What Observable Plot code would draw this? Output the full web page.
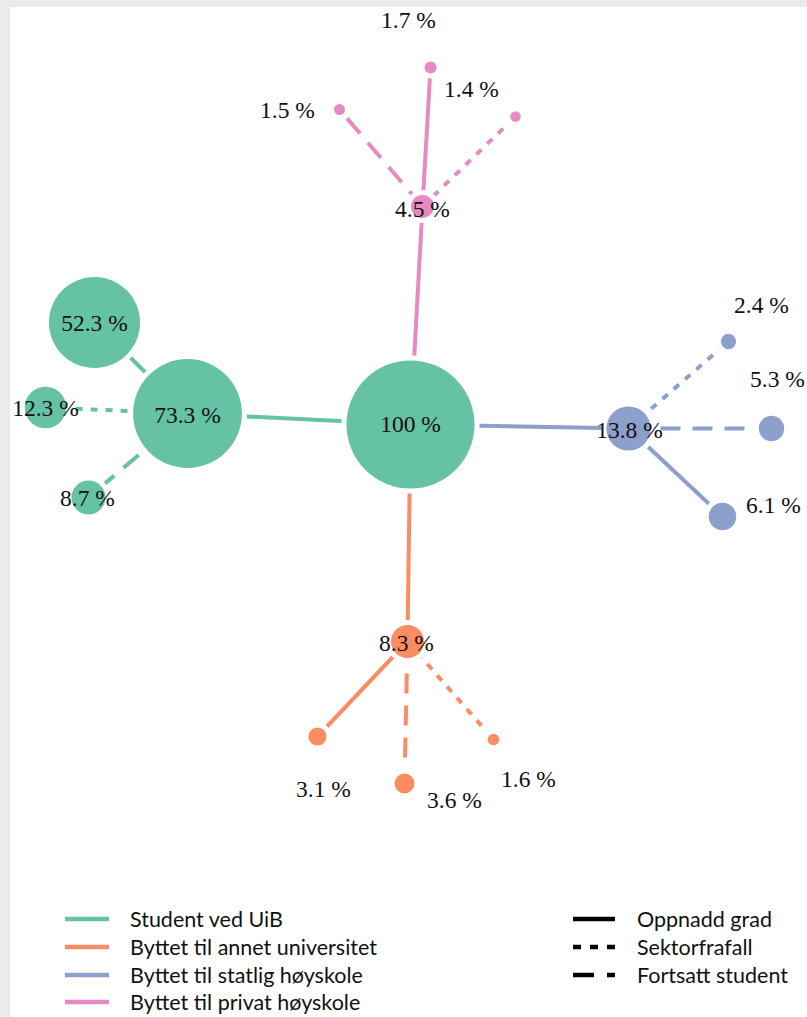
<!DOCTYPE html>
<html>
<head>
<meta charset="utf-8">
<script src="https://cdn.jsdelivr.net/npm/d3@7"></script>
<script src="https://cdn.jsdelivr.net/npm/@observablehq/plot@0.6"></script>
<style>
  html, body { margin: 0; padding: 0; }
  body { width: 807px; height: 1017px; background: #ebebeb; position: relative; overflow: hidden; }
  #panel { position: absolute; left: 10px; top: 7px; right: 0; bottom: 0; background: #ffffff; }
  #chart { position: absolute; left: 0; top: 0; }
  #legend { position: absolute; left: 0; top: 0; width: 807px; height: 1017px; pointer-events: none;
            font-family: Lato, "Open Sans", sans-serif; font-size: 21.5px; color: #111; }
  .item { position: absolute; display: flex; align-items: center; height: 28px; white-space: nowrap; }
  .item svg { margin-right: 19px; }
</style>
</head>
<body>
<div id="panel"></div>
<div id="chart"></div>
<div id="legend"></div>
<script>
// ---- data ----
const groups = ["Student ved UiB", "Byttet til annet universitet", "Byttet til statlig høyskole", "Byttet til privat høyskole"];
const outcomes = ["Oppnadd grad", "Sektorfrafall", "Fortsatt student"];

const nodeIds   = ["root", "uib", "uib_grad", "uib_frafall", "uib_student",
                   "univ", "univ_grad", "univ_student", "univ_frafall",
                   "stat", "stat_frafall", "stat_student", "stat_grad",
                   "priv", "priv_grad", "priv_student", "priv_frafall"];
const nodeShare = [100, 73.3, 52.3, 12.3, 8.7,
                   8.3, 3.1, 3.6, 1.6,
                   13.8, 2.4, 5.3, 6.1,
                   4.5, 1.7, 1.5, 1.4];
const nodeGroup = [0, 0, 0, 0, 0,
                   1, 1, 1, 1,
                   2, 2, 2, 2,
                   3, 3, 3, 3];
const nodeParent = [null, "root", "uib", "uib", "uib",
                    "root", "univ", "univ", "univ",
                    "root", "stat", "stat", "stat",
                    "root", "priv", "priv", "priv"];
// outcome index of the edge leading into each node (-1: transfer edge from root, drawn solid)
const nodeOutcome = [-1, -1, 0, 1, 2,
                     -1, 0, 2, 1,
                     -1, 1, 2, 0,
                     -1, 0, 2, 1];

// ---- network layout (node positions, label offsets; layout units, y up) ----
const layoutXY = {
  root: [0, 0], uib: [-223, 11], uib_grad: [-316, 102], uib_frafall: [-365, 17], uib_student: [-322, -73],
  univ: [-3, -217], univ_grad: [-93, -312], univ_student: [-6, -359], univ_frafall: [83, -315],
  stat: [218, -4], stat_frafall: [318, 83], stat_student: [361, -4], stat_grad: [312, -92],
  priv: [12, 218], priv_grad: [20, 357], priv_student: [-71, 315], priv_frafall: [105, 308]
};
const labelOffset = {
  root: [0, 0], uib: [0, -2], uib_grad: [0, -1], uib_frafall: [0, -1], uib_student: [-1, -1],
  univ: [-1, -2], univ_grad: [6, -53], univ_student: [50, -17], univ_frafall: [35, -40],
  stat: [1, -2], stat_frafall: [33, 36], stat_student: [6, 49], stat_grad: [51, 11],
  priv: [0, -3], priv_grad: [-22, 47], priv_student: [-52, -1], priv_frafall: [-44, 27]
};

const colors = ["#66c2a5", "#fc8d62", "#8da0cb", "#e78ac3"];

const nodes = nodeIds.map((id, i) => ({
  id, share: nodeShare[i], group: groups[nodeGroup[i]],
  outcome: nodeOutcome[i] >= 0 ? outcomes[nodeOutcome[i]] : null,
  parent: nodeParent[i],
  x: layoutXY[id][0], y: layoutXY[id][1],
  lx: layoutXY[id][0] + labelOffset[id][0], ly: layoutXY[id][1] + labelOffset[id][1],
  label: d3.format(".1f")(nodeShare[i]).replace(/\.0$/, "") + " %"
}));
const byId = new Map(nodes.map(d => [d.id, d]));
const edges = nodes.filter(d => d.parent).map(d => ({
  x1: byId.get(d.parent).x, y1: byId.get(d.parent).y, x2: d.x, y2: d.y,
  group: d.group, outcome: d.outcome
}));

const dashes = { "Oppnadd grad": null, "Sektorfrafall": "7,8", "Fortsatt student": "20,12" };

const linkMark = (filter, dash) => Plot.link(edges.filter(filter), {
  x1: "x1", y1: "y1", x2: "x2", y2: "y2", stroke: "group",
  strokeWidth: 4, strokeDasharray: dash, strokeLinecap: "butt"
});

const chart = Plot.plot({
  width: 807, height: 890,
  margin: 0,
  style: { background: "transparent", overflow: "visible" },
  x: { domain: [-410, 397], range: [0, 807], axis: null },
  y: { domain: [-466, 424], range: [890, 0], axis: null },
  color: { domain: groups, range: colors },
  r: { type: "sqrt", domain: [0.16, 100], range: [0, 64] },
  marks: [
    linkMark(d => d.outcome === null || d.outcome === "Oppnadd grad", null),
    linkMark(d => d.outcome === "Sektorfrafall", dashes["Sektorfrafall"]),
    linkMark(d => d.outcome === "Fortsatt student", dashes["Fortsatt student"]),
    Plot.dot(nodes, { x: "x", y: "y", r: "share", fill: "group", stroke: "white", strokeWidth: 10, paintOrder: "stroke" }),
    Plot.text(nodes, { x: "lx", y: "ly", text: "label", fill: "#111", fontFamily: "'Liberation Serif', 'Times New Roman', serif", fontSize: 23.5 })
  ]
});
document.getElementById("chart").appendChild(chart);

// ---- legend ----
const legend = document.getElementById("legend");
const rowY = [920, 948, 976, 1003];
function swatch(color, dash, w) {
  const ns = "http://www.w3.org/2000/svg";
  const s = document.createElementNS(ns, "svg");
  s.setAttribute("width", w); s.setAttribute("height", 10);
  const l = document.createElementNS(ns, "line");
  l.setAttribute("x1", 2); l.setAttribute("x2", w - 2); l.setAttribute("y1", 5); l.setAttribute("y2", 5);
  l.setAttribute("stroke", color); l.setAttribute("stroke-width", 4.5);
  if (dash) l.setAttribute("stroke-dasharray", dash);
  s.appendChild(l);
  return s;
}
groups.forEach((g, i) => {
  const it = document.createElement("div");
  it.className = "item";
  it.style.left = "63px"; it.style.top = (rowY[i] - 15) + "px";
  it.appendChild(swatch(colors[i], null, 48));
  it.appendChild(document.createTextNode(g));
  legend.appendChild(it);
});
const legendDash = ["", "8,9", "21,13"];
outcomes.forEach((o, i) => {
  const it = document.createElement("div");
  it.className = "item";
  it.style.left = "571px"; it.style.top = (rowY[i] - 15) + "px";
  const sw = swatch("#000", legendDash[i] || null, 46);
  sw.style.marginRight = "20px";
  it.appendChild(sw);
  it.appendChild(document.createTextNode(o));
  legend.appendChild(it);
});
</script>
</body>
</html>
